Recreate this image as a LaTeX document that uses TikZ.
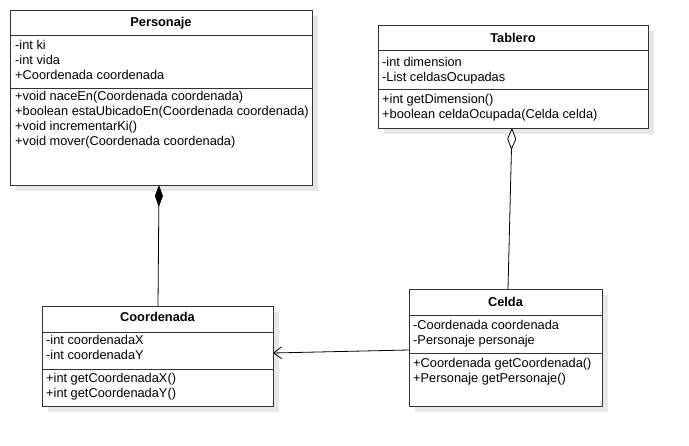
\documentclass[tikz,border=0pt]{standalone}
\usepackage{fontspec}
\setmainfont{Liberation Sans}
\usetikzlibrary{arrows.meta,shadows,calc}
\begin{document}
\begin{tikzpicture}[x=1pt,y=-1pt,
  classbox/.style={draw=black!80,line width=0.9pt,fill=white,anchor=north west,inner sep=0pt,
    drop shadow={shadow xshift=6pt,shadow yshift=-6pt,fill=black!9,opacity=1,draw=none}},
  divider/.style={draw=black!80,line width=0.9pt},
  member/.style={anchor=base west,inner sep=0pt,font=\fontsize{12.8}{14}\selectfont},
  title/.style={anchor=base,inner sep=0pt,font=\fontsize{12.8}{14}\selectfont\bfseries},
  conn/.style={draw=black,line width=0.8pt}]
\useasboundingbox (0,0) rectangle (689,446);
% Personaje
\node[classbox,minimum width=302pt,minimum height=175pt] (pers) at (10,10) {};
\draw[divider] (10,35) -- (312,35);
\draw[divider] (10,88) -- (312,88);
\node[title] (persT) at (161,27) {Personaje};
\node[member] (p1) at (15,50) {-int ki};
\node[member] (p2) at (15,65) {-int vida};
\node[member] (p3) at (15,80) {+Coordenada coordenada};
\node[member] (p4) at (15,101) {+void naceEn(Coordenada coordenada)};
\node[member] (p5) at (15,116) {+boolean estaUbicadoEn(Coordenada coordenada)};
\node[member] (p6) at (15,131) {+void incrementarKi()};
\node[member] (p7) at (15,146) {+void mover(Coordenada coordenada)};
% Tablero
\node[classbox,minimum width=270pt,minimum height=103pt] (tab) at (378,25) {};
\draw[divider] (378,50) -- (648,50);
\draw[divider] (378,89) -- (648,89);
\node[title] (tabT) at (513,43) {Tablero};
\node[member] (t1) at (382,67) {-int dimension};
\node[member] (t2) at (382,82) {-List celdasOcupadas};
\node[member] (t3) at (382,104) {+int getDimension()};
\node[member] (t4) at (382,119) {+boolean celdaOcupada(Celda celda)};
% Coordenada
\node[classbox,minimum width=231pt,minimum height=100pt] (coord) at (42,306) {};
\draw[divider] (42,332) -- (273,332);
\draw[divider] (42,369) -- (273,369);
\node[title] (coordT) at (157.5,322) {Coordenada};
\node[member] (c1) at (46,345) {-int coordenadaX};
\node[member] (c2) at (46,360) {-int coordenadaY};
\node[member] (c3) at (46,383) {+int getCoordenadaX()};
\node[member] (c4) at (46,398) {+int getCoordenadaY()};
% Celda
\node[classbox,minimum width=193pt,minimum height=117pt] (celda) at (409,289) {};
\draw[divider] (409,315) -- (602,315);
\draw[divider] (409,353) -- (602,353);
\node[title] (celdaT) at (505.5,307) {Celda};
\node[member] (e1) at (413,330) {-Coordenada coordenada};
\node[member] (e2) at (413,345) {-Personaje personaje};
\node[member] (e3) at (413,368) {+Coordenada getCoordenada()};
\node[member] (e4) at (413,383) {+Personaje getPersonaje()};
% connectors
\coordinate (compTop) at (159,185);
\coordinate (compBot) at (158,306);
\draw[conn,{Diamond[width=8pt,length=22pt,fill=black]}-] (compTop) -- (compBot);
\coordinate (aggTop) at (512,128);
\coordinate (aggBot) at (508,289);
\draw[conn,{Diamond[open,width=9pt,length=22pt,fill=white]}-] (aggTop) -- (aggBot);
\coordinate (assA) at (409,350);
\coordinate (assB) at (273,353);
\draw[conn,-{Straight Barb[length=8pt,width=12pt,line width=0.8pt]}] (assA) -- (assB);
\end{tikzpicture}
\end{document}
